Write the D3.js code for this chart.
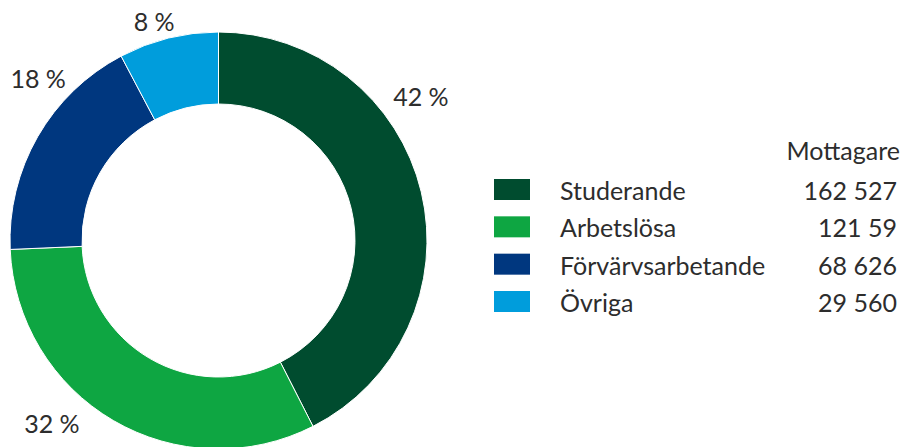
<!DOCTYPE html>
<html>
<head>
<meta charset="utf-8">
<script src="https://cdn.jsdelivr.net/npm/d3@7"></script>
<style>
  body { margin: 0; background: #fff; }
  svg text { font-family: Lato, "Open Sans", sans-serif; fill: #2d2d2d; }
</style>
</head>
<body>
<svg id="canvas" width="904" height="447"></svg>
<script>
// data
const categories = ["Studerande", "Arbetslösa", "Förvärvsarbetande", "Övriga"];
const values = [162527, 121590, 68626, 29560];
const valueLabels = ["162 527", "121 59", "68 626", "29 560"];
const pctLabels = ["42 %", "32 %", "18 %", "8 %"];
const colors = ["#004c2f", "#0ea642", "#00377f", "#009ddc"];

const svg = d3.select("#canvas");

const cx = 218.5, cy = 240.5;
const outerR = 208.5, innerR = 136.5;
const fontSize = 25;

const pie = d3.pie().sort(null).value(d => d);
const arcs = pie(values);

const arc = d3.arc().innerRadius(innerR).outerRadius(outerR);

const g = svg.append("g").attr("transform", "translate(" + cx + "," + cy + ")");

g.selectAll("path")
  .data(arcs)
  .join("path")
  .attr("d", arc)
  .attr("fill", (d, i) => colors[i])
  .attr("stroke", "#fff")
  .attr("stroke-width", 1);

// percent labels, placed around the ring (angle in degrees from top, radius)
const labelPlace = [[54.7, 248], [222.2, 248], [311.8, 242], [343.6, 228]];

g.selectAll("text.pct")
  .data(arcs)
  .join("text")
  .attr("class", "pct")
  .attr("text-anchor", "middle")
  .attr("font-size", fontSize)
  .attr("x", (d, i) => Math.sin(labelPlace[i][0] * Math.PI / 180) * labelPlace[i][1])
  .attr("y", (d, i) => -Math.cos(labelPlace[i][0] * Math.PI / 180) * labelPlace[i][1] + 9)
  .text((d, i) => pctLabels[i]);

// legend
const legend = svg.append("g");
const rowY = d3.scalePoint().domain(categories).range([190, 302]);

legend.append("text")
  .attr("x", 900)
  .attr("y", 160)
  .attr("text-anchor", "end")
  .attr("font-size", fontSize)
  .text("Mottagare");

const rows = legend.selectAll("g.row")
  .data(categories)
  .join("g")
  .attr("class", "row")
  .attr("transform", d => "translate(0," + rowY(d) + ")");

rows.append("rect")
  .attr("x", 494)
  .attr("y", -11)
  .attr("width", 36)
  .attr("height", 21)
  .attr("fill", (d, i) => colors[i]);

rows.append("text")
  .attr("x", 560)
  .attr("y", 10)
  .attr("font-size", fontSize)
  .text(d => d);

rows.append("text")
  .attr("x", 897)
  .attr("y", 10)
  .attr("text-anchor", "end")
  .attr("font-size", fontSize)
  .text((d, i) => valueLabels[i]);
</script>
</body>
</html>
